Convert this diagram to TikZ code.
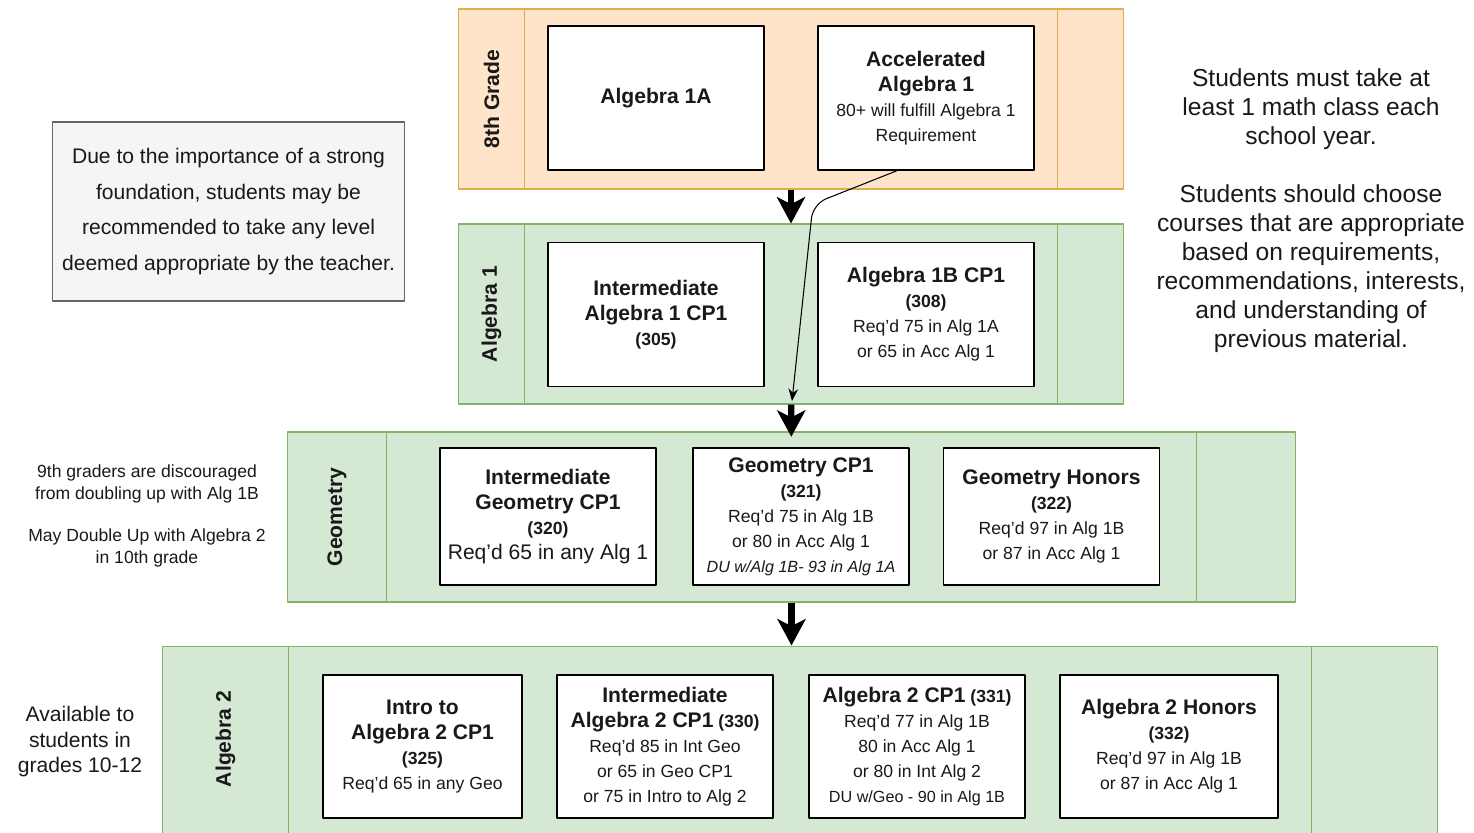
\documentclass[tikz,border=0pt]{standalone}
\usepackage{fontspec}
\setmainfont{Liberation Sans}
\usetikzlibrary{arrows.meta,calc}
\definecolor{peach}{HTML}{FFE4C9}
\definecolor{peachline}{HTML}{DDAE4E}
\definecolor{mint}{HTML}{D5E8D4}
\definecolor{mintline}{HTML}{82B366}
\definecolor{notegray}{HTML}{F5F5F5}
\definecolor{noteline}{HTML}{666666}
\newcommand{\crs}{\bfseries\fontsize{12}{14.2}\selectfont}
\newcommand{\dunote}{\fontsize{9.2}{14.2}\selectfont}

\begin{document}
\begin{tikzpicture}[x=0.02cm,y=-0.02cm,line join=round,>={Stealth[length=15pt,width=16pt,inset=4pt]}]
	\tikzset{every node/.style={text=black!90},
		band/.style={draw=mintline,fill=mint,line width=0.6pt,minimum width=13.32cm,minimum height=3.6cm},
		course/.style={draw,fill=white,line width=0.8pt,align=center,minimum width=4.32cm,minimum height=2.88cm,font=\fontsize{10}{14.2}\selectfont},
		bandlbl/.style={rotate=90,font=\bfseries\fontsize{12}{14}\selectfont},
		bigarrow/.style={->,line width=3.6pt},
		thinarrow/.style={-{Stealth[length=7pt,width=5.5pt]},line width=0.6pt}}
	\useasboundingbox (0,0) rectangle (1474,832);
	\clip (0,0) rectangle (1474,832);
	% grade bands
	\node[band,draw=peachline,fill=peach] (g8) at (791,99) {};
	\node[band] (alg1) at (791,314) {};
	\node[band,minimum width=20.18cm,minimum height=3.4cm] (geo) at (791.5,517) {};
	\node[band,minimum width=25.52cm,minimum height=3.8cm] (alg2) at (800,741) {};
	\foreach \b/\w/\c in {g8/67/peachline,alg1/67/mintline,geo/100/mintline,alg2/127/mintline}{
		\draw[\c,line width=0.6pt] ($(\b.north west)+(\w,0)$) -- ($(\b.south west)+(\w,0)$);
		\draw[\c,line width=0.6pt] ($(\b.north east)+(-\w,0)$) -- ($(\b.south east)+(-\w,0)$);
	}
	\node[bandlbl] (lblg8) at (491.5,99) {8th Grade};
	\node[bandlbl] (lblalg1) at (491.5,314) {Algebra 1};
	\node[bandlbl] (lblgeo) at (337,517) {Geometry};
	\node[bandlbl] (lblalg2) at (225.5,739) {Algebra 2};
	% courses
	\node[course] (a1a) at (656,98) {{\crs Algebra 1A}};
	\node[course] (acc) at (926,98) {{\crs Accelerated}\\{\crs Algebra 1}\\80+ will fulfill Algebra 1\\Requirement};
	\node[course] (ia1) at (656,314.5) {{\crs Intermediate}\\{\crs Algebra 1 CP1}\\{\bfseries (305)}};
	\node[course] (a1b) at (926,314.5) {{\crs Algebra 1B CP1}\\{\bfseries (308)}\\Req'd 75 in Alg 1A\\or 65 in Acc Alg 1};
	\node[course,minimum height=2.74cm] (igeo) at (548,516.5) {{\crs Intermediate}\\{\crs Geometry CP1}\\{\bfseries (320)}\\{\fontsize{12}{14.2}\selectfont Req'd 65 in any Alg 1}};
	\node[course,minimum height=2.74cm] (geocp) at (801,516.5) {{\crs Geometry CP1}\\{\bfseries (321)}\\Req'd 75 in Alg 1B\\or 80 in Acc Alg 1\\{\itshape\dunote DU w/Alg 1B- 93 in Alg 1A}};
	\node[course,minimum height=2.74cm] (geoh) at (1051.5,516.5) {{\crs Geometry Honors}\\{\bfseries (322)}\\Req'd 97 in Alg 1B\\or 87 in Acc Alg 1};
	\node[course,minimum width=3.98cm,minimum height=2.86cm] (intro) at (422.5,746.5) {{\crs Intro to}\\{\crs Algebra 2 CP1}\\{\bfseries (325)}\\Req'd 65 in any Geo};
	\node[course,minimum height=2.86cm] (ia2) at (665,746.5) {{\crs Intermediate}\\{\crs Algebra 2 CP1} {\bfseries (330)}\\Req'd 85 in Int Geo\\or 65 in Geo CP1\\or 75 in Intro to Alg 2};
	\node[course,minimum height=2.86cm] (a2cp) at (917,746.5) {{\crs Algebra 2 CP1} {\bfseries (331)}\\Req'd 77 in Alg 1B\\80 in Acc Alg 1\\or 80 in Int Alg 2\\{\dunote DU w/Geo - 90 in Alg 1B}};
	\node[course,minimum width=4.36cm,minimum height=2.86cm] (a2h) at (1169,746.5) {{\crs Algebra 2 Honors}\\{\bfseries (332)}\\Req'd 97 in Alg 1B\\or 87 in Acc Alg 1};
	% side notes
	\node[draw=noteline,fill=notegray,line width=0.6pt,minimum width=7.06cm,minimum height=3.58cm,align=center,font=\fontsize{12}{20.4}\selectfont] (why) at (228.5,211.5)
		{Due to the importance of a strong\\foundation, students may be\\recommended to take any level\\deemed appropriate by the teacher.};
	\node[align=center,font=\fontsize{14}{16.5}\selectfont] (rules) at (1311,211)
		{Students must take at\\least 1 math class each\\school year.\\[16.4pt]Students should choose\\courses that are appropriate\\based on requirements,\\recommendations, interests,\\and understanding of\\previous material.};
	\node[align=center,font=\fontsize{10}{12.5}\selectfont] (geonote) at (147,516)
		{9th graders are discouraged\\from doubling up with Alg 1B\\[11.3pt]May Double Up with Algebra 2\\in 10th grade};
	\node[align=center,font=\fontsize{12}{14.5}\selectfont] (alg2note) at (80,742) {Available to\\students in\\grades 10-12};
	% arrows
	\draw[bigarrow] (g8) -- (alg1);
	\draw[bigarrow,shorten >=-3pt] (alg1) -- (geo);
	\draw[bigarrow] (geo.south) -- (geo.south |- alg2.north);
	\coordinate (accend) at (792,401);
	\draw[thinarrow,rounded corners=8pt] ($(acc.south)+(-29,0)$) -- (813,204) -- (accend);
\end{tikzpicture}
\end{document}
